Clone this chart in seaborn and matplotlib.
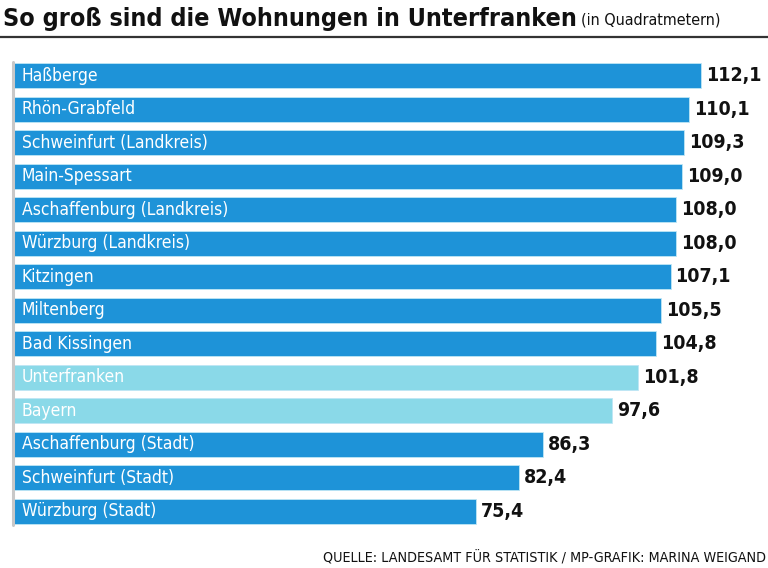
import matplotlib
matplotlib.use("Agg")
import matplotlib.pyplot as plt
import seaborn as sns
import pandas as pd
from matplotlib.lines import Line2D

regions = ['Haßberge', 'Rhön-Grabfeld', 'Schweinfurt (Landkreis)', 'Main-Spessart',
           'Aschaffenburg (Landkreis)', 'Würzburg (Landkreis)', 'Kitzingen', 'Miltenberg',
           'Bad Kissingen', 'Unterfranken', 'Bayern', 'Aschaffenburg (Stadt)',
           'Schweinfurt (Stadt)', 'Würzburg (Stadt)']
sizes = [112.1, 110.1, 109.3, 109.0, 108.0, 108.0, 107.1, 105.5, 104.8, 101.8, 97.6,
         86.3, 82.4, 75.4]
highlight = ['Unterfranken', 'Bayern']

DARK = '#1e93d8'
LIGHT = '#8ad9e8'

sns.set_style('white')
plt.rcParams['font.family'] = ['DejaVu Sans']
plt.rcParams['font.stretch'] = 'condensed'

df = pd.DataFrame({'region': regions, 'size': sizes})
palette = {r: (LIGHT if r in highlight else DARK) for r in regions}

fig = plt.figure(figsize=(7.68, 5.68), dpi=100)
ax = fig.add_axes([14 / 768, 0.0704, 1 - 14 / 768, 0.8257])

sns.barplot(data=df, x='size', y='region', hue='region', palette=palette,
            orient='h', width=0.74, legend=False, ax=ax, saturation=1,
            edgecolor='#bfe6f5', linewidth=0.6)

ax.set_xlim(0, 123)
ax.set_ylim(len(regions) - 0.5, -0.5)
ax.set_axis_off()

for i, (r, v) in enumerate(zip(regions, sizes)):
    ax.text(1.3, i, r, color='white', fontsize=12.5, va='center', ha='left')
    ax.text(v + 0.8, i, f'{v:.1f}'.replace('.', ','), color='#111111',
            fontsize=14, fontweight='bold', va='center', ha='left')

# grey baseline at the left edge
fig.add_artist(Line2D([12.5 / 768, 12.5 / 768], [1 - 62 / 568, 1 - 525 / 568],
                      color='#c8c8c8', lw=2.2))

# title, subtitle and rule
title = fig.text(3 / 768, 1 - 19 / 568, 'So groß sind die Wohnungen in Unterfranken',
                 fontsize=18, fontweight='bold', va='center', ha='left', color='#111111')
r = fig.canvas.get_renderer()
bb = title.get_window_extent(renderer=r)
fig.text((bb.x1 + 4) / 768, 1 - 20 / 568, '(in Quadratmetern)', fontsize=11.5,
         va='center', ha='left', color='#111111')
fig.add_artist(Line2D([0, 1], [1 - 37 / 568, 1 - 37 / 568], color='#333333', lw=1.6))

fig.text(766 / 768, 1 - 558 / 568,
         'QUELLE: LANDESAMT FÜR STATISTIK / MP-GRAFIK: MARINA WEIGAND',
         fontsize=10.3, va='center', ha='right', color='#111111')

fig.savefig('out.png', dpi=100)
